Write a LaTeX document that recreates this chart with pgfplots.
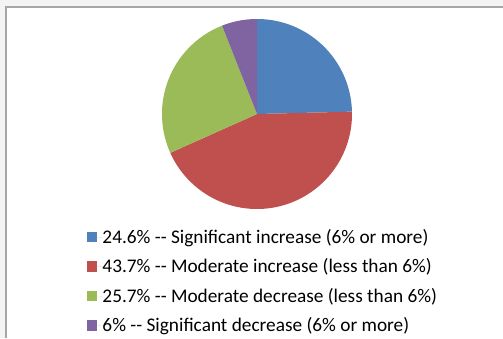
\documentclass[border=0pt]{standalone}
\usepackage{pgfplots}
\pgfplotsset{compat=1.18}
\usepackage{fontspec}
\setmainfont{Carlito}
\definecolor{sliceblue}{HTML}{4F81BD}
\definecolor{slicered}{HTML}{C0504D}
\definecolor{slicegreen}{HTML}{9BBB59}
\definecolor{slicepurple}{HTML}{8064A2}
\definecolor{outsidebg}{HTML}{F3F3F3}
\definecolor{framegray}{HTML}{A6A6A6}
% slice shares in percent
\newcommand{\pA}{24.6}
\newcommand{\pB}{43.7}
\newcommand{\pC}{25.7}
\newcommand{\pD}{6}
\begin{document}
\begin{tikzpicture}[x=1pt,y=1pt]
\useasboundingbox (0,0) rectangle (503,338);
\fill[outsidebg] (0,0) rectangle (503,338);
\fill[white] (6,0) rectangle (503,331);
\draw[framegray, line width=1.3pt] (6,0) -- (6,331) -- (503,331);
\pgfmathsetmacro{\aA}{90}
\pgfmathsetmacro{\aB}{\aA-3.6*\pA}
\pgfmathsetmacro{\aC}{\aB-3.6*\pB}
\pgfmathsetmacro{\aD}{\aC-3.6*\pC}
\pgfmathsetmacro{\aE}{\aD-3.6*\pD}
\begin{axis}[
  at={(257,224)}, anchor=origin,
  x=1pt, y=1pt,
  xmin=-100, xmax=100, ymin=-100, ymax=100,
  hide axis,
  clip=false,
  legend style={
    at={(-0.35,-0.085)}, anchor=north west,
    draw=none, fill=none, inner sep=0pt, outer sep=0pt,
    font=\fontsize{19.3}{23}\selectfont,
    row sep=17.5pt, column sep=0pt,
    nodes={text height=12pt, text depth=0pt, inner sep=0pt, outer sep=0pt},
  },
  legend cell align=left,
  legend image code/.code={\path[#1] (0pt,-5.25pt) rectangle (10.5pt,5.25pt); \path (10.5pt,0) -- (15.5pt,0);},
]
\addplot[fill=sliceblue, draw=none, domain=\aB:\aA, samples=60] ({95*cos(x)},{95*sin(x)}) -- (axis cs:0,0) -- cycle;
\addlegendentry{24.6\% -{}- Significant increase (6\% or more)}
\addplot[fill=slicered, draw=none, domain=\aC:\aB, samples=100] ({95*cos(x)},{95*sin(x)}) -- (axis cs:0,0) -- cycle;
\addlegendentry{43.7\% -{}- Moderate increase (less than 6\%)}
\addplot[fill=slicegreen, draw=none, domain=\aD:\aC, samples=60] ({95*cos(x)},{95*sin(x)}) -- (axis cs:0,0) -- cycle;
\addlegendentry{25.7\% -{}- Moderate decrease (less than 6\%)}
\addplot[fill=slicepurple, draw=none, domain=\aE:\aD, samples=20] ({95*cos(x)},{95*sin(x)}) -- (axis cs:0,0) -- cycle;
\addlegendentry{6\% -{}- Significant decrease (6\% or more)}
\end{axis}
\end{tikzpicture}
\end{document}
